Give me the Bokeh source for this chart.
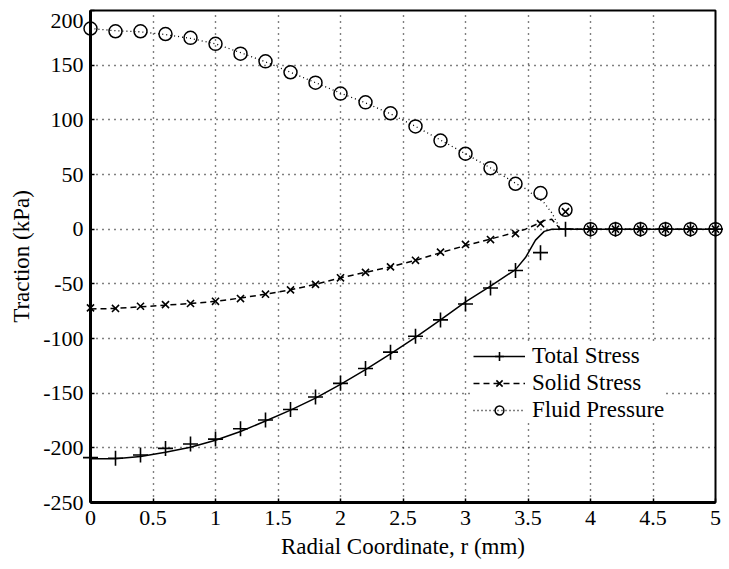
from bokeh.plotting import figure
from bokeh.models import Legend, LegendItem, FixedTicker
from bokeh.core.properties import value
from bokeh.embed import file_html
from bokeh.resources import INLINE

# ---- data ----
r_pts = [0.0, 0.2, 0.4, 0.6, 0.8, 1.0, 1.2, 1.4, 1.6, 1.8, 2.0, 2.2, 2.4,
         2.6, 2.8, 3.0, 3.2, 3.4, 3.6, 3.8, 4.0, 4.2, 4.4, 4.6, 4.8, 5.0]
total_pts = [-209, -209.5, -206.5, -200.5, -196.5, -192, -182.5, -174.5, -165, -153.5,
             -141, -127.5, -112.5, -98, -83, -68.5, -53.8, -37.8, -21.5, 0,
             0, 0, 0, 0, 0, 0]
solid_pts = [-72, -72.5, -70.5, -69, -68, -66, -63.5, -59.5, -55.5, -50.5,
             -44.5, -39.5, -34.5, -28.5, -21, -14, -9.5, -4, 5, 16,
             0, 0, 0, 0, 0, 0]
fluid_pts = [183.5, 181, 181, 178.5, 175, 169.5, 160.5, 153.5, 143.5, 134,
             124, 116, 106, 94, 81, 69, 55.8, 41.5, 33, 17.7,
             0, 0, 0, 0, 0, 0]

r_line = [0.0, 0.2, 0.4, 0.6, 0.8, 1.0, 1.2, 1.4, 1.6, 1.8, 2.0, 2.2, 2.4, 2.6,
          2.8, 3.0, 3.2, 3.4, 3.48, 3.56, 3.63, 3.69, 3.76, 4.0, 5.0]
total_line = [-210, -210, -208, -204, -199.5, -193, -185, -175.5, -165.5, -154.5,
              -142, -128.5, -114, -99, -83, -66.5, -52, -37, -26, -10,
              -2, 0, 0, 0, 0]
solid_line = [-73, -72.5, -71, -69.5, -68, -66, -63, -59.5, -55.5, -50.5,
              -44.5, -39.5, -34.5, -28.5, -21.5, -15, -9, -3, 0, 4,
              8, 9, 0, 0, 0]
fluid_line = [183.5, 181.5, 180.5, 178, 174.5, 169.5, 161.5, 153, 143.5, 134,
              124.5, 115.5, 105.5, 94, 81.5, 69, 56, 42, 37, 30,
              24, 15, 0, 0, 0]

x_ticks = [0, 0.5, 1, 1.5, 2, 2.5, 3, 3.5, 4, 4.5, 5]
x_tick_labels = ["0", "0.5", "1", "1.5", "2", "2.5", "3", "3.5", "4", "4.5", "5"]
y_ticks = [-250, -200, -150, -100, -50, 0, 50, 100, 150, 200]
y_tick_labels = ["-250", "-200", "-150", "-100", "-50", "0", "50", "100", "150", "200"]

series_labels = ["Total Stress", "Solid Stress", "Fluid Pressure"]
x_title = "Radial Coordinate, r (mm)"
y_title = "Traction (kPa)"

FONT = "Liberation Serif"

p = figure(frame_width=625, frame_height=492,
           x_range=(x_ticks[0], x_ticks[-1]), y_range=(y_ticks[0], y_ticks[-1]),
           output_backend="svg", toolbar_location=None,
           min_border_left=90, min_border_top=10, min_border_right=8, min_border_bottom=0)

p.background_fill_color = "white"
p.border_fill_color = "white"
p.outline_line_color = "black"
p.outline_line_width = 2
p.outline_line_alpha = 1

# grid
for g in (p.xgrid, p.ygrid):
    g.grid_line_color = "black"
    g.grid_line_dash = "1 5"
    g.grid_line_width = 1.4
p.xaxis.ticker = FixedTicker(ticks=x_ticks)
p.yaxis.ticker = FixedTicker(ticks=y_ticks)
p.xgrid.ticker = FixedTicker(ticks=x_ticks)
p.ygrid.ticker = FixedTicker(ticks=y_ticks)


def key(t):
    return int(t) if float(t).is_integer() else t


p.xaxis.major_label_overrides = {key(t): s for t, s in zip(x_ticks, x_tick_labels)}
yo = {key(t): s for t, s in zip(y_ticks, y_tick_labels)}
yo[key(y_ticks[-1])] = ""
p.yaxis.major_label_overrides = yo

for ax in (p.xaxis, p.yaxis):
    ax.axis_line_width = 3
    ax.axis_line_color = "black"
    ax.major_tick_in = 4
    ax.major_tick_out = 0
    ax.major_tick_line_width = 1.5
    ax.major_tick_line_color = "black"
    ax.minor_tick_line_color = None
    ax.major_label_text_font = FONT
    ax.major_label_text_font_size = "22px"
    ax.major_label_text_color = "black"
    ax.axis_label_text_font = FONT
    ax.axis_label_text_font_size = "23px"
    ax.axis_label_text_font_style = "normal"
    ax.axis_label_text_color = "#000000"

p.xaxis.axis_label = x_title
p.yaxis.axis_label = y_title
p.xaxis.major_label_standoff = 8
p.xaxis.axis_label_standoff = 6
p.yaxis.major_label_standoff = 7
p.yaxis.axis_label_standoff = 6

# top tick label, shifted down inside the figure as in the reference
p.text(x=[x_ticks[0]], y=[y_ticks[-1]], text=[y_tick_labels[-1]],
       x_offset=-7, y_offset=10, text_align="right", text_baseline="middle",
       text_font=value(FONT), text_font_size="22px", text_color="black",
       level="overlay")

# lines
l_tot = p.line(r_line, total_line, line_color="black", line_width=1.5)
l_sol = p.line(r_line, solid_line, line_color="black", line_width=1.5, line_dash="6 4")
l_flu = p.line(r_line, fluid_line, line_color="black", line_width=1.3, line_dash="1 3")

# markers
m_flu = p.scatter(r_pts, fluid_pts, marker="circle", size=13, fill_color=None,
                  line_color="black", line_width=1.5, level="overlay")
m_tot = p.scatter(r_pts, total_pts, marker="cross", size=15, line_color="black",
                  line_width=1.6, level="overlay")
m_sol = p.scatter(r_pts, solid_pts, marker="x", size=10, line_color="black",
                  line_width=1.6, level="overlay")

legend = Legend(items=[LegendItem(label=series_labels[0], renderers=[l_tot, m_tot]),
                       LegendItem(label=series_labels[1], renderers=[l_sol, m_sol]),
                       LegendItem(label=series_labels[2], renderers=[l_flu, m_flu])],
                location=(383, 79), glyph_width=52, glyph_height=22, label_height=22,
                spacing=1, padding=2, margin=0, label_standoff=7,
                label_text_font=FONT, label_text_font_size="23px",
                label_text_color="black",
                border_line_color=None, background_fill_color="white",
                background_fill_alpha=1)
p.add_layout(legend)

open("out.html", "w").write(file_html(p, INLINE))
